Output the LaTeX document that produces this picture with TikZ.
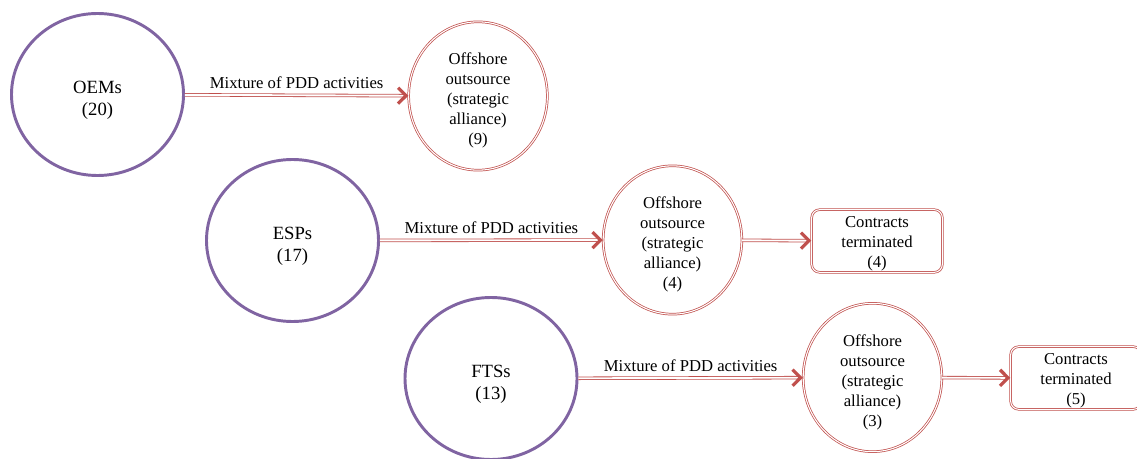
\documentclass[tikz,border=0pt]{standalone}
\usepackage{fontspec}
\setmainfont{Liberation Serif}
\usetikzlibrary{shapes.geometric,arrows.meta}
\definecolor{firmpurple}{HTML}{8064A2}
\definecolor{linkred}{HTML}{C0504D}

\begin{document}
\begin{tikzpicture}[x=0.75pt,y=-0.75pt,
  font=\fontsize{12.5}{15}\selectfont,
  firm/.style={shape=ellipse,draw=firmpurple,line width=2.2pt,minimum width=129pt,minimum height=121.5pt,inner sep=0pt,align=center,
    font=\fontsize{14}{16.5}\selectfont,text height=35pt},
  deal/.style={shape=ellipse,draw=linkred,double=white,line width=0.55pt,double distance=0.8pt,minimum width=104pt,minimum height=106pt,inner sep=0pt,align=center,
    text height=76pt},
  ended/.style={shape=rectangle,rounded corners=6pt,draw=linkred,double=white,line width=0.55pt,double distance=0.8pt,minimum width=98pt,minimum height=47pt,inner sep=0pt,align=center,
    text height=43pt},
  link/.style={draw=linkred,double=white,line width=0.6pt,double distance=1.4pt,-{Straight Barb[length=6pt,width=12pt,line width=2.4pt]}}]
  \useasboundingbox (0,0) rectangle (1137,459);

  % first group
  \node[firm] (oem) at (97.5,94.5) {OEMs\\(20)};
  \node[deal] (off1) at (478,96) {Offshore\\outsource\\(strategic\\alliance)\\(9)};
  \draw[link] (oem) -- node[above=1pt] {Mixture of PDD activities} (off1);

  % second group
  \node[firm] (esp) at (292.5,240.5) {ESPs\\(17)};
  \node[deal] (off2) at (672.5,240) {Offshore\\outsource\\(strategic\\alliance)\\(4)};
  \node[ended] (end2) at (877,241) {Contracts\\terminated\\(4)};
  \draw[link] (esp) -- node[above=1pt] {Mixture of PDD activities} (off2);
  \draw[link] (off2) -- (end2);

  % third group
  \node[firm] (fts) at (491,378.5) {FTSs\\(13)};
  \node[deal] (off3) at (872.5,377.5) {Offshore\\outsource\\(strategic\\alliance)\\(3)};
  \node[ended] (end3) at (1076,378) {Contracts\\terminated\\(5)};
  \draw[link] (fts) -- node[above=1pt] {Mixture of PDD activities} (off3);
  \draw[link] (off3) -- (end3);
\end{tikzpicture}
\end{document}
